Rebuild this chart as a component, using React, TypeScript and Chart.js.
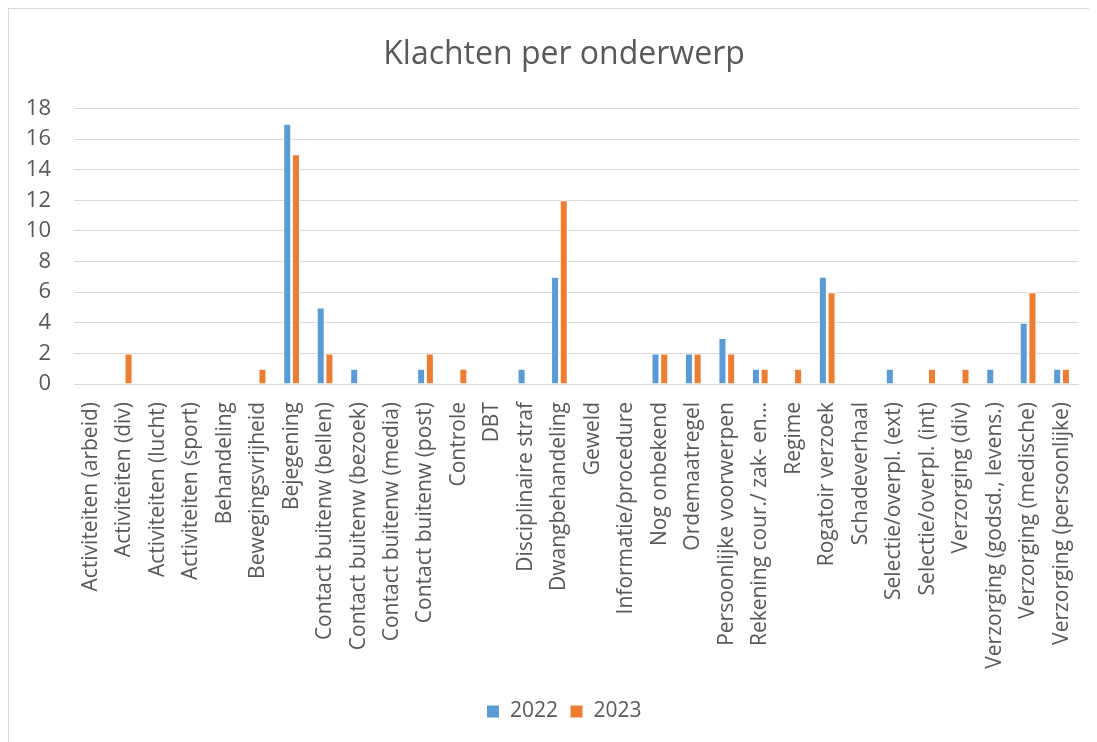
import React, { useEffect, useRef } from "react";
import { Chart, registerables } from "chart.js";

Chart.register(...registerables);

const categories: string[] = [
  "Activiteiten (arbeid)",
  "Activiteiten (div)",
  "Activiteiten (lucht)",
  "Activiteiten (sport)",
  "Behandeling",
  "Bewegingsvrijheid",
  "Bejegening",
  "Contact buitenw (bellen)",
  "Contact buitenw (bezoek)",
  "Contact buitenw (media)",
  "Contact buitenw (post)",
  "Controle",
  "DBT",
  "Disciplinaire straf",
  "Dwangbehandeling",
  "Geweld",
  "Informatie/procedure",
  "Nog onbekend",
  "Ordemaatregel",
  "Persoonlijke voorwerpen",
  "Rekening cour./ zak- en…",
  "Regime",
  "Rogatoir verzoek",
  "Schadeverhaal",
  "Selectie/overpl. (ext)",
  "Selectie/overpl. (int)",
  "Verzorging (div)",
  "Verzorging (godsd., levens.)",
  "Verzorging (medische)",
  "Verzorging (persoonlijke)",
];

const values2022: number[] = [0, 0, 0, 0, 0, 0, 17, 5, 1, 0, 1, 0, 0, 1, 7, 0, 0, 2, 2, 3, 1, 0, 7, 0, 1, 0, 0, 1, 4, 1];
const values2023: number[] = [0, 2, 0, 0, 0, 1, 15, 2, 0, 0, 2, 1, 0, 0, 12, 0, 0, 2, 2, 2, 1, 1, 6, 0, 0, 1, 1, 0, 6, 1];

const seriesLabels: string[] = ["2022", "2023"];
const titleText = "Klachten per onderwerp";
const yMin = 0;
const yMax = 18;
const yStep = 2;

const FONT = "'Open Sans', 'DejaVu Sans', sans-serif";
const TEXT = "#595959";

const widenYAxisLabelArea = {
  id: "widenYAxisLabelArea",
  afterLayout(chart: any) {
    const y = chart.scales.y;
    if (y) y.left = 0;
  },
};

export default function App() {
  const ref = useRef<HTMLCanvasElement | null>(null);

  useEffect(() => {
    document.body.style.overflow = "hidden";
    if (!ref.current) return;
    const chart = new Chart(ref.current, {
      type: "bar",
      data: {
        labels: categories,
        datasets: [
          {
            label: seriesLabels[0],
            data: values2022,
            backgroundColor: "#5b9bd5",
            borderColor: "#ffffff",
            borderWidth: 1,
            categoryPercentage: 0.52,
            barPercentage: 0.92,
          },
          {
            label: seriesLabels[1],
            data: values2023,
            backgroundColor: "#ed7d31",
            borderColor: "#ffffff",
            borderWidth: 1,
            categoryPercentage: 0.52,
            barPercentage: 0.92,
          },
        ],
      },
      plugins: [widenYAxisLabelArea],
      options: {
        animation: false,
        responsive: false,
        maintainAspectRatio: false,
        layout: { padding: { left: 36, right: 14, top: 10, bottom: 10 } },
        plugins: {
          title: {
            display: true,
            text: titleText,
            color: TEXT,
            font: { family: FONT, size: 32, weight: "normal" },
            padding: { top: 17, bottom: 34 },
          },
          legend: {
            position: "bottom",
            labels: {
              color: TEXT,
              font: { family: FONT, size: 21 },
              boxWidth: 13,
              boxHeight: 13,
              padding: 12,
            },
          },
          tooltip: { enabled: false },
        },
        scales: {
          x: {
            grid: { display: false },
            border: { display: true, color: "#d9d9d9" },
            ticks: {
              color: TEXT,
              font: { family: FONT, size: 21 },
              minRotation: 90,
              maxRotation: 90,
              autoSkip: false,
              padding: 10,
            },
            afterFit: (s: any) => {
              s.height = 305;
            },
          },
          y: {
            min: yMin,
            max: yMax,
            grid: { color: "#d9d9d9", drawTicks: false },
            border: { display: false },
            ticks: {
              stepSize: yStep,
              color: TEXT,
              font: { family: FONT, size: 22 },
              padding: 23,
            },
            afterFit: (s: any) => {
              s.width = 29;
            },
          },
        },
      },
    });
    return () => chart.destroy();
  }, []);

  return (
    <div
      style={{
        width: 1089,
        height: 734,
        borderLeft: "1px solid #d9d9d9",
        borderTop: "1px solid #d9d9d9",
        boxSizing: "border-box",
        overflow: "hidden",
      }}
    >
      <canvas ref={ref} width={1088} height={733} style={{ display: "block" }} />
    </div>
  );
}
